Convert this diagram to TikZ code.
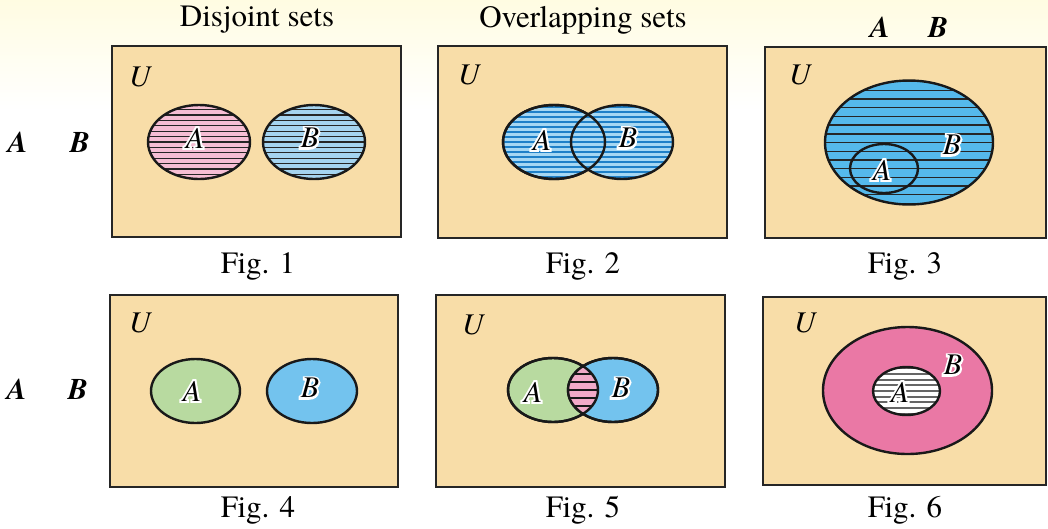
\documentclass[tikz,border=0pt]{standalone}
\usepackage{fontspec}
\setmainfont{texgyretermes}[Extension=.otf, UprightFont=*-regular, BoldFont=*-bold, ItalicFont=*-italic, BoldItalicFont=*-bolditalic]
\newfontfamily\halofont{texgyretermes-italic.otf}[FakeBold=13]
\usetikzlibrary{shapes.geometric}
\definecolor{bgc}{RGB}{255,252,226}
\definecolor{uboxc}{RGB}{248,221,168}
\definecolor{pinkA}{RGB}{246,190,212}
\definecolor{blueB}{RGB}{165,212,240}
\definecolor{blueL}{RGB}{165,215,243}
\definecolor{blueD}{RGB}{30,128,200}
\definecolor{blueM}{RGB}{85,185,235}
\definecolor{greenA}{RGB}{184,218,160}
\definecolor{blueF}{RGB}{115,195,238}
\definecolor{pinkF}{RGB}{234,120,165}
\definecolor{pinkI}{RGB}{242,170,200}
\newcommand{\halo}[1]{\rlap{\halofont\color{white}#1}#1}
\tikzset{
  ubox/.style={rectangle, draw=black!85, line width=2.5pt, fill=uboxc, inner sep=0pt, outer sep=0pt},
  ell/.style={ellipse, draw=black!90, line width=2.4pt, inner sep=0pt, outer sep=0pt},
  ellline/.style={draw=black!90, line width=2.4pt},
  hatch/.style n args={3}{path picture={\foreach \k in {-40,...,40} \draw[#1, line width=#2] ([xshift=-200pt, yshift=\k*#3]path picture bounding box.center) -- ++(400pt,0);}},
  lab/.style={font=\fontsize{30}{34}\selectfont\itshape, inner sep=0pt},
  side/.style={font=\fontsize{30}{34}\selectfont\bfseries\itshape, inner sep=0pt},
  head/.style={font=\fontsize{31}{36}\selectfont, inner sep=0pt},
}
\begin{document}
\begin{tikzpicture}[x=1pt,y=-1pt]
\useasboundingbox (0,0) rectangle (1048,528);
\fill[white] (0,0) rectangle (1048,528);
\shade[top color=bgc, bottom color=white] (0,0) rectangle (1048,110);

% headings
\node[head] (h1) at (257,20) {Disjoint sets};
\node[head] (h2) at (583,20) {Overlapping sets};
\node[side] (tA) at (880,27) {A};
\node[side] (tB) at (938,27) {B};
\node[side] (sA1) at (18,142) {A};
\node[side] (sB1) at (80,142) {B};
\node[side] (sA2) at (17,389) {A};
\node[side] (sB2) at (78,389) {B};

% boxes
\node[ubox, minimum width=289pt, minimum height=191pt] (U1) at (256.5,141.5) {};
\node[ubox, minimum width=289pt, minimum height=192pt] (U2) at (582.5,142) {};
\node[ubox, minimum width=281pt, minimum height=191pt] (U3) at (905.5,142.5) {};
\node[ubox, minimum width=288pt, minimum height=192pt] (U4) at (254,391) {};
\node[ubox, minimum width=289pt, minimum height=192pt] (U5) at (580.5,391) {};
\node[ubox, minimum width=283pt, minimum height=188pt] (U6) at (904.5,391) {};

\node[lab] (u1) at (140,77) {U};
\node[lab] (u2) at (469,75) {U};
\node[lab] (u3) at (800,75) {U};
\node[lab] (u4) at (140,323) {U};
\node[lab] (u5) at (473,325) {U};
\node[lab] (u6) at (805,323) {U};

% Fig 1
\node[ell, fill=pinkA, hatch={black!85}{1.3pt}{5.4}, minimum width=102pt, minimum height=74pt] (A1) at (199,142) {};
\node[ell, fill=blueB, hatch={black!85}{1.3pt}{5.4}, minimum width=102pt, minimum height=74pt] (B1) at (314,142) {};
\node[lab] (a1) at (195,138) {\halo{A}};
\node[lab] (b1) at (310,138) {\halo{B}};

% Fig 2
\node[ell, fill=blueL, hatch={blueD}{1.8pt}{5}, minimum width=102pt, minimum height=74pt] (A2) at (554,142) {};
\node[ell, fill=blueL, hatch={blueD}{1.8pt}{5}, minimum width=102pt, minimum height=74pt] (B2) at (622,142) {};
\draw[ellline] (A2.center) ellipse [x radius=51pt, y radius=37pt];
\node[lab] (a2) at (542,140) {\halo{A}};
\node[lab] (b2) at (628,138) {\halo{B}};

% Fig 3
\node[ell, fill=blueM, hatch={black!85}{1.4pt}{8.7}, minimum width=168pt, minimum height=124pt] (B3) at (909,142.5) {};
\node[ell, minimum width=68pt, minimum height=49pt] (A3) at (884,168.5) {};
\node[lab] (b3) at (952,145) {\halo{B}};
\node[lab] (a3) at (882,170) {\halo{A}};

% Fig 4
\node[ell, fill=greenA, minimum width=89pt, minimum height=64pt] (A4) at (195.5,391) {};
\node[ell, fill=blueF, minimum width=90pt, minimum height=64pt] (B4) at (312,391) {};
\node[lab] (a4) at (192,391) {\halo{A}};
\node[lab] (b4) at (310,388) {\halo{B}};

% Fig 5
\node[ell, fill=greenA, minimum width=90pt, minimum height=64pt] (A5) at (553,390) {};
\node[ell, fill=blueF, minimum width=90pt, minimum height=64pt] (B5) at (613,390) {};
\begin{scope}
  \clip (A5.center) ellipse [x radius=45pt, y radius=32pt];
  \clip (B5.center) ellipse [x radius=45pt, y radius=32pt];
  \fill[pinkI] (B5.center) ellipse [x radius=45pt, y radius=32pt];
  \foreach \k in {-4,...,4} \draw[black!90, line width=1.2pt] ([xshift=-60pt, yshift=\k*8]B5.center) -- ++(120pt,0);
\end{scope}
\draw[ellline] (A5.center) ellipse [x radius=45pt, y radius=32pt];
\draw[ellline] (B5.center) ellipse [x radius=45pt, y radius=32pt];
\node[lab] (a5) at (533,392) {\halo{A}};
\node[lab] (b5) at (621,388) {\halo{B}};

% Fig 6
\node[ell, fill=pinkF, minimum width=169pt, minimum height=127pt] (B6) at (907.5,390.5) {};
\node[ell, fill=white, hatch={black!60}{2pt}{5.7}, minimum width=67pt, minimum height=48pt] (A6) at (906.5,391) {};
\node[lab] (b6) at (953,365) {\halo{B}};
\node[lab] (a6) at (900,392) {\halo{A}};

% captions
\node[head] (f1) at (258,266) {Fig. 1};
\node[head] (f2) at (583,266) {Fig. 2};
\node[head] (f3) at (905,266) {Fig. 3};
\node[head] (f4) at (258,510) {Fig. 4};
\node[head] (f5) at (583,510) {Fig. 5};
\node[head] (f6) at (905,510) {Fig. 6};
\end{tikzpicture}
\end{document}
